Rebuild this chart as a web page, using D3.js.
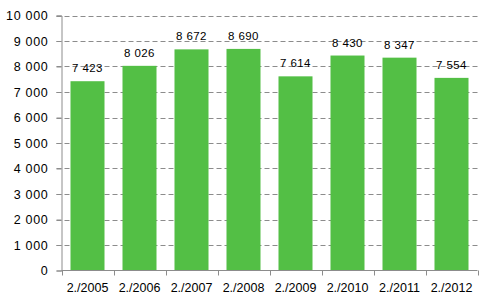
<!DOCTYPE html>
<html><head><meta charset="utf-8">
<script src="https://cdn.jsdelivr.net/npm/d3@7"></script>
<style>body{margin:0;background:#fff}svg{display:block}text{font-family:"Liberation Sans",Arial,sans-serif;fill:#000}</style>
</head><body><svg id="c" width="493" height="304"></svg>
<script>
const categories = ["2./2005","2./2006","2./2007","2./2008","2./2009","2./2010","2./2011","2./2012"];
const values = [7423, 8026, 8672, 8690, 7614, 8430, 8347, 7554];
const yTicks = [0,1000,2000,3000,4000,5000,6000,7000,8000,9000,10000];

const svg = d3.select("#c");
const L = 61.5, R = 477.5, T = 15.5, B = 270.5;
const x = d3.scaleBand().domain(categories).range([L, R]).paddingInner(0.346).paddingOuter(0.173);
const xb = d3.scaleBand().domain(categories).range([L, R]);
const y = d3.scaleLinear().domain([0, 10000]).range([B, T]);
const fmt = v => d3.format(",")(v).replace(/,/g, " ");

// gridlines
svg.append("g").selectAll("line").data(yTicks.filter(d => d > 0)).join("line")
  .attr("x1", L - 5).attr("x2", R).attr("y1", d => Math.round(y(d)) + 0.5).attr("y2", d => Math.round(y(d)) + 0.5)
  .attr("stroke", "#8c8c8c").attr("stroke-dasharray", "5,3");

// bars
svg.append("g").selectAll("rect").data(values).join("rect")
  .attr("x", (d, i) => x(categories[i])).attr("width", x.bandwidth())
  .attr("y", d => y(d)).attr("height", d => B - y(d))
  .attr("fill", "#53bf45");

// value labels
svg.append("g").selectAll("text").data(values).join("text")
  .attr("x", (d, i) => x(categories[i]) + x.bandwidth() / 2)
  .attr("y", d => y(d) - 9)
  .attr("text-anchor", "middle").attr("font-size", 11.5).attr("letter-spacing", 0.4)
  .text(fmt);

// y axis
const ya = svg.append("g").attr("transform", `translate(${L},0)`)
  .call(d3.axisLeft(y).tickValues(yTicks).tickSize(5).tickPadding(8).tickFormat(fmt));
ya.attr("font-family", null);
ya.select(".domain").attr("stroke", "#8c8c8c");
ya.selectAll(".tick line").attr("stroke", "#8c8c8c");
ya.selectAll("text").attr("font-size", 12.5).attr("letter-spacing", 0.7);

// x axis
const xa = svg.append("g").attr("transform", `translate(0,${B})`);
xa.append("line").attr("x1", L).attr("x2", R).attr("stroke", "#8c8c8c");
const bounds = [L].concat(categories.map(c => xb(c) + xb.bandwidth()));
xa.selectAll("line.t").data(bounds).join("line").attr("class", "t")
  .attr("x1", d => Math.round(d) + 0.5).attr("x2", d => Math.round(d) + 0.5).attr("y1", 0).attr("y2", 5)
  .attr("stroke", "#8c8c8c");
xa.selectAll("text").data(categories).join("text")
  .attr("x", d => xb(d) + xb.bandwidth() / 2).attr("y", 21.5)
  .attr("text-anchor", "middle").attr("font-size", 12.5)
  .text(d => d);
</script></body></html>
